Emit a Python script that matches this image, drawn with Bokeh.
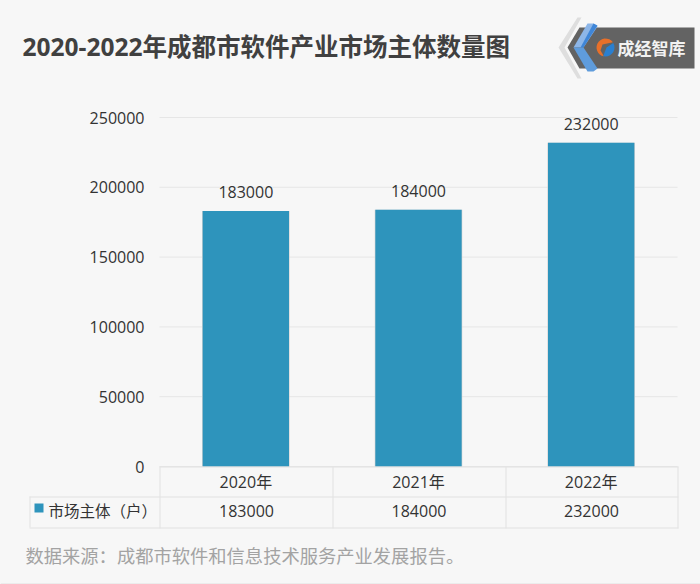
from bokeh.plotting import figure
from bokeh.embed import file_html
from bokeh.resources import INLINE
from bokeh.core.properties import value
from bokeh.models import (Label, PolyAnnotation, Range1d, FixedTicker, LinearAxis,
                          GlobalInlineStyleSheet, NumeralTickFormatter)
import math

title_text = "2020-2022年成都市软件产业市场主体数量图"
source_text = "数据来源：成都市软件和信息技术服务产业发展报告。"
logo_text = "成经智库"
series_name = "市场主体（户）"
years = ["2020年", "2021年", "2022年"]
values = [183000, 184000, 232000]
y_ticks = [0, 50000, 100000, 150000, 200000, 250000]

BG = "#f7f7f7"
BAR = "#2e94bc"
GRID = "#e6e6e6"
TEXT = "#333333"
FONT = "Open Sans, Noto Sans CJK SC"
W, H = 700, 584
L, R, T, B = 159, 677, 117, 466

# the frame fills the canvas, because annotations are clipped to it; ranges place the plot area
y_per_px = y_ticks[-1] / (B - T)
x_per_px = len(years) / (R - L)
pos = list(range(len(years)))
x_lo = -0.5 - L * x_per_px
x_hi = x_lo + W * x_per_px
y_lo = -(H - B) * y_per_px
y_hi = y_lo + H * y_per_px

p = figure(width=W, height=H, output_backend="svg", toolbar_location=None,
           x_range=Range1d(x_lo, x_hi), y_range=Range1d(y_lo, y_hi),
           x_axis_type=None, y_axis_type=None,
           min_border=0, background_fill_color=BG, border_fill_color=BG, outline_line_color=None,
           stylesheets=[GlobalInlineStyleSheet(css=f"html,body{{background:{BG};}}")])
p.grid.visible = False

p.segment(x0=[-0.5] * len(y_ticks), x1=[len(years) - 0.5] * len(y_ticks), y0=y_ticks, y1=y_ticks,
          line_color=GRID, line_width=1)

yaxis = LinearAxis(fixed_location=-0.5, ticker=FixedTicker(ticks=y_ticks),
                   formatter=NumeralTickFormatter(format="0"),
                   axis_line_color=None, major_tick_line_color=None, minor_tick_line_color=None,
                   major_tick_out=0, major_tick_in=0, minor_tick_out=0, minor_tick_in=0,
                   major_label_text_font=FONT, major_label_text_font_size="16px",
                   major_label_text_color=TEXT, major_label_standoff=15)
p.add_layout(yaxis, "left")
xaxis = LinearAxis(fixed_location=0, ticker=FixedTicker(ticks=pos),
                   major_label_overrides=dict(zip(pos, years)),
                   axis_line_color=None, major_tick_line_color=None, minor_tick_line_color=None,
                   major_tick_out=0, major_tick_in=0, minor_tick_out=0, minor_tick_in=0,
                   major_label_text_font=FONT, major_label_text_font_size="16px",
                   major_label_text_color=TEXT, major_label_standoff=4)
p.add_layout(xaxis, "below")

p.vbar(x=pos, top=values, width=0.507, bottom=0, fill_color="#d2d2d2", line_color=None)
p.vbar(x=pos, top=values, width=0.5, bottom=0, fill_color=BAR, line_color=None)
p.text(x=pos, y=values, text=[str(v) for v in values], text_font=value(FONT), text_font_size=value("16px"),
       text_color=TEXT, text_align="center", text_baseline="bottom", y_offset=-13)


def sx(x):
    return x


def sy(y):
    return H - y


def txt(x, y, s, size, color=TEXT, align="left", style="normal", font=FONT):
    p.add_layout(Label(x=sx(x), y=sy(y), x_units="screen", y_units="screen", text=s,
                       text_font=font, text_font_size=size, text_color=color, text_align=align,
                       text_baseline="middle", text_font_style=style))


def poly(pts, color):
    p.add_layout(PolyAnnotation(xs=[sx(a) for a, _ in pts], ys=[sy(b) for _, b in pts],
                                xs_units="screen", ys_units="screen", fill_color=color, fill_alpha=1,
                                line_color=None))


def hline(x0, x1, y):
    poly([(x0, y), (x1, y), (x1, y + 1), (x0, y + 1)], "#e2e2e2")


def vline(x, y0, y1):
    poly([(x, y0), (x + 1, y0), (x + 1, y1), (x, y1)], "#e2e2e2")


# table
hline(159, 678, 466)
hline(29, 678, 496)
hline(29, 678, 527)
vline(29, 496, 527)
for xv in (159, 332, 505, 677):
    vline(xv, 466, 528)
poly([(34, 503), (43, 503), (43, 512), (34, 512)], BAR)
txt(48, 510, series_name, "15.5px")
for xc, v in zip((246, 418.5, 591), values):
    txt(xc, 510, str(v), "16px", align="center")

# title and source
txt(22, 46, title_text, "24.5px", color="#404040", style="bold")
txt(25, 555, source_text, "18.3px", color="#a3a3a3")
hline(0, 700, 583)

# logo
poly([(558, 47), (577, 17), (581, 17), (564, 47), (581, 78), (577, 78)], "#dedede")
poly([(579, 27), (694, 27), (694, 68), (579, 68), (567, 47)], "#636363")
poly([(587, 23), (593, 23), (597, 26), (583, 47), (573, 47)], "#8db6e8")
poly([(573, 47), (583, 47), (597, 68), (593, 71), (587, 71)], "#5f9cdc")
poly([(593, 23), (597, 25), (583, 47), (580, 47)], "#3f86d8")
ring = [(605 + 9 * math.cos(math.radians(a)), 47 + 9 * math.sin(math.radians(a))) for a in range(100, 330, 15)]
poly(ring + [(602, 44), (600, 50)], "#e8702a")
ring2 = [(605 + 9 * math.cos(math.radians(a)), 47 + 9 * math.sin(math.radians(a))) for a in range(-30, 110, 15)]
poly(ring2 + [(606, 47)], "#2a7fd0")
txt(617, 47, logo_text, "17px", color="#f2f2f2", style="bold", font="Noto Sans CJK SC")

open("out.html", "w").write(file_html(p, INLINE))
